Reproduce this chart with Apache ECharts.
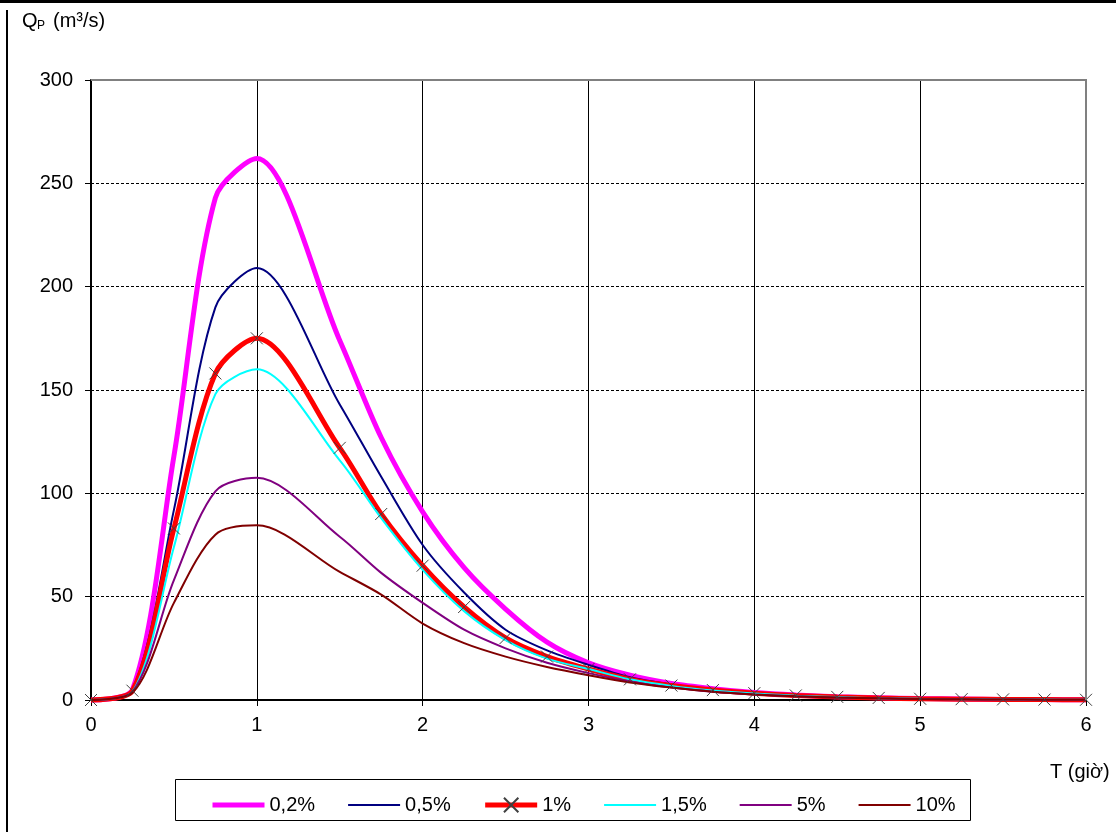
<!DOCTYPE html>
<html>
<head>
<meta charset="utf-8">
<script src="https://cdn.jsdelivr.net/npm/echarts@6/dist/echarts.min.js"></script>
<style>
html,body{margin:0;padding:0;background:#fff;}
#chart{width:1116px;height:832px;}
</style>
</head>
<body>
<div id="chart"></div>
<script>
// ---- data ----
const times = [0,0.25,0.5,0.75,1,1.5,1.75,2,2.25,2.5,2.75,3,3.25,3.5,3.75,4,4.25,4.5,4.75,5,5.25,5.5,5.75,6];
const seriesNames = ['0,2%','0,5%','1%','1,5%','5%','10%'];
const q02 = [0,5,118,243,262,174,127,91,64,44,28,18,12,8,5.5,3.6,2.4,1.6,1.1,0.7,0.5,0.3,0.2,0.1];
const q05 = [0,5,92,190,209,143,108,75,52,34,24,17,11,7.5,5,3.4,2.3,1.5,1,0.7,0.5,0.3,0.2,0.1];
const q1  = [0,4.5,83,158,175,122,90,65,45,30,21,15,10,7,4.8,3.3,2.2,1.5,1,0.6,0.4,0.3,0.2,0.1];
const q15 = [0,4,74,148,160,116,88,63,43,29,20,15,10,6.8,4.6,3.1,2.1,1.4,0.9,0.6,0.4,0.3,0.2,0.1];
const q5  = [0,4,58,101,107.5,79,61.5,47,34,25,18,13,9,6,4,2.7,1.8,1.2,0.8,0.5,0.35,0.25,0.15,0.1];
const q10 = [0,3.5,47,80,84.5,62,51,37,27.5,21,16,12,8.5,6,4,2.7,1.8,1.2,0.8,0.5,0.35,0.25,0.15,0.1];
const xTicks = [0,1,2,3,4,5,6];
const yTicks = [0,50,100,150,200,250,300];

const seriesValues = [q02,q05,q1,q15,q5,q10];
const colors = ['#FF00FF','#000080','#FF0000','#00FFFF','#800080','#800000'];
const widths = [5,2,5,2,2,2];
const FONT = 'Liberation Sans, Arial, sans-serif';

const chart = echarts.init(document.getElementById('chart'));
const series = seriesValues.map((vals, k) => {
  const s = {
    name: seriesNames[k],
    type: 'line',
    data: times.map((t, i) => [t, vals[i]]),
    smooth: 0.3,
    clip: false,
    color: colors[k],
    lineStyle: {color: colors[k], width: widths[k]},
    emphasis: {disabled: true},
    animation: false,
    z: 3
  };
  if (k === 2) {
    s.symbol = 'path://M0,0L10,10M10,0L0,10';
    s.symbolSize = 12;
    s.showSymbol = true;
    s.itemStyle = {color: colors[k], borderColor: '#404040', borderWidth: 1};
  } else {
    s.symbol = 'path://M0,0L1,1';
    s.showSymbol = false;
    s.itemStyle = {color: colors[k], borderWidth: 0};
  }
  return s;
});

const option = {
  backgroundColor: '#fff',
  animation: false,
  textStyle: {fontFamily: FONT},
  grid: {left: 91, top: 80, right: 30, bottom: 132, show: false},
  xAxis: {
    type: 'value', min: xTicks[0], max: xTicks[xTicks.length-1], interval: 1,
    axisLine: {show: true, onZero: false, lineStyle: {color: '#000', width: 2}},
    axisTick: {show: true, length: 6, lineStyle: {color: '#000'}},
    axisLabel: {color: '#000', fontSize: 20, fontFamily: FONT, margin: 15},
    splitLine: {show: true, lineStyle: {color: '#000', width: 1, type: 'solid'}}
  },
  yAxis: {
    type: 'value', min: yTicks[0], max: yTicks[yTicks.length-1], interval: 50,
    axisLine: {show: true, lineStyle: {color: '#000', width: 2}},
    axisTick: {show: true, length: 6, lineStyle: {color: '#000'}},
    axisLabel: {color: '#000', fontSize: 20, fontFamily: FONT, margin: 18},
    splitLine: {show: true, lineStyle: {color: '#000', width: 1, type: [3, 2]}}
  },
  legend: {
    left: 205, top: 790,
    itemWidth: 52, itemHeight: 18, itemGap: 32,
    textStyle: {color: '#000', fontSize: 20, fontFamily: FONT},
    data: seriesNames.map((n, k) => ({name: n, lineStyle: {width: widths[k], color: colors[k]}}))
  },
  graphic: [
    {type: 'rect', z: 100, shape: {x: 0, y: 0, width: 1116, height: 3}, style: {fill: '#000'}},
    {type: 'rect', z: 100, shape: {x: 6, y: 10, width: 2, height: 822}, style: {fill: '#000'}},
    {type: 'line', z: 100, shape: {x1: 91, y1: 80, x2: 1087, y2: 80}, style: {stroke: '#808080', lineWidth: 2}},
    {type: 'line', z: 100, shape: {x1: 1086, y1: 80, x2: 1086, y2: 700}, style: {stroke: '#808080', lineWidth: 2}},
    {type: 'rect', z: 0, shape: {x: 175.5, y: 779.5, width: 795, height: 41}, style: {fill: 'none', stroke: '#000', lineWidth: 1}},
    {type: 'text', z: 100, x: 22, y: 21, style: {text: 'Q', fontSize: 20, fontFamily: FONT, fill: '#000', verticalAlign: 'middle'}},
    {type: 'text', z: 100, x: 37, y: 26, style: {text: 'P', fontSize: 12, fontFamily: FONT, fill: '#000', verticalAlign: 'middle'}},
    {type: 'text', z: 100, x: 53, y: 21, style: {text: '(m³/s)', fontSize: 20, fontFamily: FONT, fill: '#000', verticalAlign: 'middle'}},
    {type: 'text', z: 100, x: 1050, y: 772, style: {text: 'T (giờ)', fontSize: 20, fontFamily: FONT, fill: '#000', verticalAlign: 'middle'}}
  ],
  series: series
};
chart.setOption(option);
</script>
</body>
</html>
